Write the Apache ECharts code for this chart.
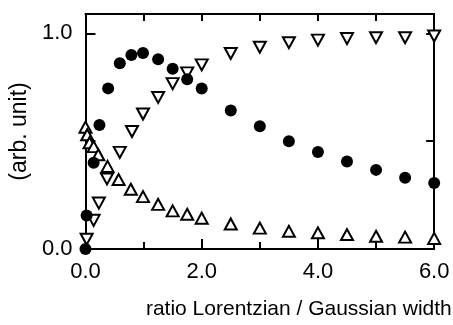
<!DOCTYPE html>
<html>
<head>
<meta charset="utf-8">
<script src="https://cdn.jsdelivr.net/npm/echarts@6/dist/echarts.min.js"></script>
<style>
  html, body { margin: 0; padding: 0; background: #fff; }
  #chart { width: 453px; height: 325px; }
</style>
</head>
<body>
<div id="chart"></div>
<script>
// filled circles
const circleX = [0, 0.02, 0.14, 0.24, 0.39, 0.59, 0.79, 0.99, 1.25, 1.5, 1.75, 2.0, 2.5, 3.0, 3.5, 4.0, 4.5, 5.0, 5.5, 6.0];
const circleY = [0, 0.155, 0.40, 0.575, 0.745, 0.862, 0.90, 0.909, 0.88, 0.836, 0.787, 0.744, 0.642, 0.569, 0.50, 0.45, 0.406, 0.367, 0.33, 0.306];

// open triangles pointing down
const downX = [0.02, 0.14, 0.23, 0.37, 0.59, 0.80, 0.99, 1.25, 1.5, 1.75, 2.0, 2.5, 3.0, 3.5, 4.0, 4.5, 5.0, 5.5, 6.0];
const downY = [0.045, 0.133, 0.213, 0.325, 0.448, 0.545, 0.626, 0.703, 0.767, 0.817, 0.854, 0.907, 0.936, 0.957, 0.969, 0.976, 0.98, 0.98, 0.988];

// open triangles pointing up
const upX = [0, 0.03, 0.07, 0.14, 0.22, 0.38, 0.57, 0.78, 0.99, 1.25, 1.5, 1.75, 2.0, 2.5, 3.0, 3.5, 4.0, 4.5, 5.0, 5.5, 6.0];
const upY = [0.565, 0.53, 0.493, 0.475, 0.437, 0.383, 0.322, 0.277, 0.243, 0.207, 0.177, 0.161, 0.143, 0.116, 0.097, 0.082, 0.075, 0.067, 0.059, 0.055, 0.049];

const xLabels = ["0.0", "2.0", "4.0", "6.0"];
const yLabels = ["0.0", "1.0"];

const pairs = (xs, ys) => xs.map((x, i) => [x, ys[i]]);

const FONT = "Liberation Sans";
const axisLine = { show: true, onZero: false, lineStyle: { color: "#000", width: 2 } };

var chart = echarts.init(document.getElementById("chart"));
chart.setOption({
  animation: false,
  textStyle: { fontFamily: FONT },
  grid: { left: 82, right: 17, top: 14, bottom: 72, containLabel: false },
  xAxis: [
    {
      type: "value",
      min: 0,
      max: 6,
      interval: 2,
      name: "ratio Lorentzian / Gaussian width",
      nameLocation: "middle",
      nameGap: 50,
      nameTextStyle: { fontSize: 21, color: "#000", fontFamily: FONT, padding: [0, 0, 0, 78] },
      axisLine: axisLine,
      axisTick: { inside: true, length: 10, lineStyle: { color: "#000", width: 2 } },
      minorTick: { show: true, splitNumber: 2, length: 7, lineStyle: { color: "#000", width: 2 } },
      axisLabel: {
        fontSize: 22,
        color: "#000",
        margin: 12,
        formatter: (v) => xLabels[Math.round(v / 2)] || "",
      },
      splitLine: { show: false },
    },
    {
      type: "value",
      position: "top",
      min: 0,
      max: 6,
      interval: 1,
      axisLine: axisLine,
      axisTick: { inside: true, length: 7, lineStyle: { color: "#000", width: 2 } },
      axisLabel: { show: false },
      splitLine: { show: false },
    },
  ],
  yAxis: [
    {
      type: "value",
      min: 0,
      max: 1.09,
      interval: 0.5,
      name: "(arb. unit)",
      nameLocation: "middle",
      nameGap: 44,
      nameTextStyle: { fontSize: 23, color: "#000", fontFamily: FONT },
      axisLine: axisLine,
      axisTick: { inside: true, length: 10, lineStyle: { color: "#000", width: 2 } },
      axisLabel: {
        fontSize: 22,
        color: "#000",
        margin: 13,
        formatter: (v) => (v === 0 ? yLabels[0] : v === 1 ? yLabels[1] : ""),
      },
      splitLine: { show: false },
    },
    {
      type: "value",
      position: "right",
      min: 0,
      max: 1.09,
      interval: 0.5,
      axisLine: axisLine,
      axisTick: { inside: true, length: 8, lineStyle: { color: "#000", width: 2 } },
      axisLabel: { show: false },
      splitLine: { show: false },
    },
  ],
  series: [
    {
      type: "scatter",
      data: pairs(upX, upY),
      symbol: "triangle",
      symbolSize: [12, 11],
      clip: false,
      itemStyle: { color: "#fff", borderColor: "#000", borderWidth: 2, opacity: 1 },
    },
    {
      type: "scatter",
      data: pairs(downX, downY),
      symbol: "triangle",
      symbolRotate: 180,
      symbolSize: [12, 11],
      clip: false,
      itemStyle: { color: "#fff", borderColor: "#000", borderWidth: 2, opacity: 1 },
    },
    {
      type: "scatter",
      data: pairs(circleX, circleY),
      symbol: "circle",
      symbolSize: 12,
      clip: false,
      itemStyle: { color: "#000", opacity: 1 },
    },
  ],
});
</script>
</body>
</html>
